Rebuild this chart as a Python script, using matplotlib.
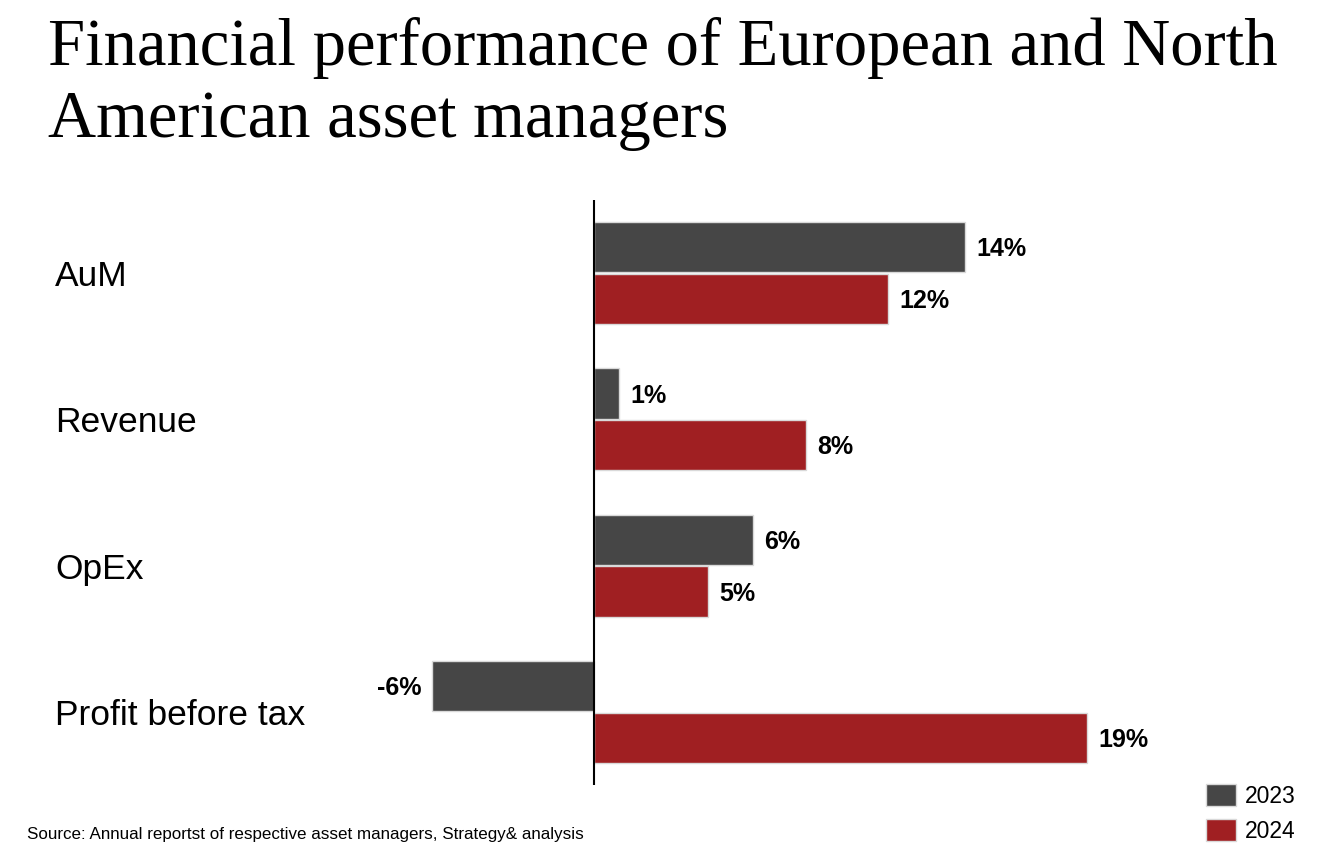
import numpy as np
from matplotlib import pyplot as plt

# data
categories = ["AuM", "Revenue", "OpEx", "Profit before tax"]
values_2023 = [14.0, 0.94, 6.0, -6.1]
values_2024 = [11.1, 8.0, 4.3, 18.6]
labels_2023 = ["14%", "1%", "6%", "-6%"]
labels_2024 = ["12%", "8%", "5%", "19%"]
series_names = ["2023", "2024"]

color_2023 = "#464646"
color_2024 = "#a01f22"
edge = "#d9d9d9"

fig = plt.figure(figsize=(13.4, 8.6), dpi=100)
ax = fig.add_axes([0.0, 75 / 860, 1.0, 585 / 860])

px_per_pct = 26.5
ax.set_xlim(-594 / px_per_pct, (1340 - 594) / px_per_pct)
ax.set_ylim(3.5, -0.5)

y = np.arange(len(categories))
off = 0.177
h = 0.345
b1 = ax.barh(y - off, values_2023, height=h, color=color_2023,
             edgecolor=edge, linewidth=1, label=series_names[0])
b2 = ax.barh(y + off, values_2024, height=h, color=color_2024,
             edgecolor=edge, linewidth=1, label=series_names[1])

ax.axvline(0, color="black", linewidth=1.5)

for bars, labs in [(b1, labels_2023), (b2, labels_2024)]:
    for rect, lab in zip(bars, labs):
        v = rect.get_width()
        yc = rect.get_y() + rect.get_height() / 2
        if v >= 0:
            ax.annotate(lab, (v, yc), xytext=(8, -1.5), textcoords="offset points",
                        ha="left", va="center", fontsize=18, fontweight="bold",
                        family="Liberation Sans")
        else:
            ax.annotate(lab, (v, yc), xytext=(-8, -1.5), textcoords="offset points",
                        ha="right", va="center", fontsize=18, fontweight="bold",
                        family="Liberation Sans")

for yi, cat in zip(y, categories):
    ax.annotate(cat, (55 / 1340, yi), xycoords=ax.get_yaxis_transform(),
                xytext=(0, -2.5), textcoords="offset points",
                ha="left", va="center", fontsize=25.5, family="Liberation Sans")

ax.set_axis_off()

fig.text(48 / 1340, 1 - 65 / 860, "Financial performance of European and North",
         fontsize=48, family="Liberation Serif", ha="left", va="baseline")
fig.text(48 / 1340, 1 - 137 / 860, "American asset managers",
         fontsize=48, family="Liberation Serif", ha="left", va="baseline")

fig.text(27 / 1340, 1 - 835 / 860,
         "Source: Annual reportst of respective asset managers, Strategy& analysis",
         fontsize=12.25, family="Liberation Sans", ha="left", va="center")

fig.legend(handles=[b1, b2], loc="lower right",
           bbox_to_anchor=(1312 / 1340, 1 / 860), frameon=False,
           prop={"family": "Liberation Sans", "size": 16.5},
           handlelength=1.3, handleheight=1.1, handletextpad=0.4,
           labelspacing=0.5, borderpad=0.2)

fig.savefig("out.png", dpi=100)
